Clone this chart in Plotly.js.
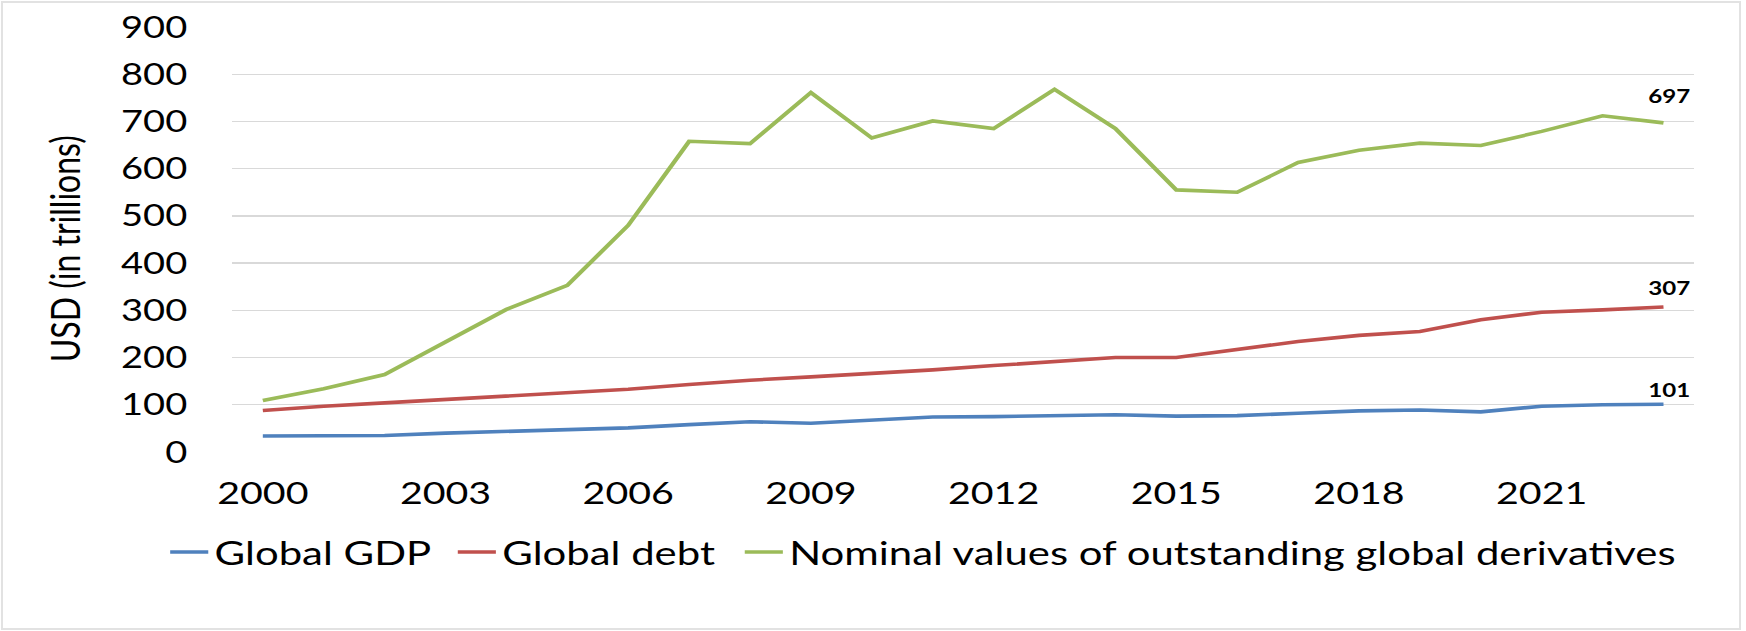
<!DOCTYPE html>
<html>
<head>
<meta charset="utf-8">
<script src="https://cdn.plot.ly/plotly-3.0.1.min.js"></script>
<style>
  html, body { margin: 0; padding: 0; background: #ffffff; }
  #outer { position: relative; width: 1746px; height: 631px; overflow: hidden; background: #ffffff; }
  #chart { position: absolute; left: 0; top: 0; width: 1375px; height: 631px; transform: scaleX(1.26982); transform-origin: 0 0; }
  #frame { position: absolute; left: 1px; top: 1px; width: 1736px; height: 625px; border: 2px solid #e2e2e2; pointer-events: none; }
</style>
</head>
<body>
<div id="outer">
  <div id="chart"></div>
  <div id="frame"></div>
</div>
<script>
// ---- data ----
const years = [2000, 2001, 2002, 2003, 2004, 2005, 2006, 2007, 2008, 2009, 2010, 2011,
               2012, 2013, 2014, 2015, 2016, 2017, 2018, 2019, 2020, 2021, 2022, 2023];
const globalGDP = [34, 34, 35, 40, 44, 48, 51, 58, 64, 61, 67, 74,
                   75, 77, 79, 76, 77, 82, 87, 89, 85, 97, 100, 101];
const globalDebt = [88, 97, 104, 111, 118, 125, 133, 143, 152, 159, 166, 174,
                    183, 191, 200, 200, 217, 234, 247, 255, 280, 296, 301, 307];
const derivatives = [109, 134, 164, 232, 302, 353, 480, 658, 653, 761, 665, 701,
                     685, 768, 685, 555, 550, 613, 639, 654, 649, 679, 712, 697];
const seriesNames = ["Global GDP", "Global debt", "Nominal values of outstanding global derivatives"];
const xTickYears = [2000, 2003, 2006, 2009, 2012, 2015, 2018, 2021];
const yTickValues = [0, 100, 200, 300, 400, 500, 600, 700, 800, 900];
const yAxisTitle = "USD (in trillions)";

// ---- styling ----
const colors = ["#4F81BD", "#C0504D", "#9BBB59"];
const labelRaise = [15, 20, 27];
const legendWidths = [181.5, 181, 745];
const FONT = "Lato, 'Open Sans', sans-serif";

const allSeries = [globalGDP, globalDebt, derivatives];
const traces = allSeries.map((vals, i) => ({
  type: "scatter",
  mode: "lines",
  name: seriesNames[i],
  x: years,
  y: vals,
  line: { color: colors[i], width: 3.6 },
  legendwidth: legendWidths[i],
  hoverinfo: "skip"
}));

const lastIdx = years.length - 1;
const endLabels = allSeries.map((vals, i) => ({
  x: years[lastIdx],
  y: vals[lastIdx],
  xref: "x", yref: "y",
  text: String(vals[lastIdx]),
  showarrow: false,
  xanchor: "center", yanchor: "middle",
  xshift: 4, yshift: labelRaise[i],
  font: { family: FONT, size: 19, color: "#000000", weight: 700 }
}));

const W = 1375, H = 631;
const marginL = 182.5, marginR = 41.2, marginT = 27, marginB = 179;
const plotW = W - marginL - marginR;
const plotH = H - marginT - marginB;

const titleAnn = {
  text: yAxisTitle,
  xref: "paper", yref: "paper",
  x: 0, y: (452 - 248.5) / plotH,
  xanchor: "center", yanchor: "middle",
  xshift: 50.2 - marginL,
  textangle: -90,
  showarrow: false,
  font: { family: FONT, size: 32, color: "#000000" }
};

const layout = {
  width: W, height: H,
  margin: { l: marginL, r: marginR, t: marginT, b: marginB, pad: 0 },
  paper_bgcolor: "#ffffff",
  plot_bgcolor: "#ffffff",
  showlegend: true,
  hovermode: false,
  font: { family: FONT, color: "#000000" },
  xaxis: {
    type: "linear",
    range: [1999.5, 2023.5],
    tickmode: "array",
    tickvals: xTickYears,
    ticktext: xTickYears.map(String),
    showgrid: false, zeroline: false, showline: false,
    ticks: "outside", ticklen: 14, tickcolor: "rgba(0,0,0,0)",
    tickfont: { family: FONT, size: 31, color: "#000000" },
    fixedrange: true
  },
  yaxis: {
    range: [0, 900],
    tickmode: "array",
    tickvals: yTickValues,
    ticktext: yTickValues.map(String),
    showgrid: true, gridcolor: "#d9d9d9", gridwidth: 1.3,
    zeroline: false, showline: false,
    ticks: "outside", ticklen: 28.5, tickcolor: "rgba(0,0,0,0)",
    tickfont: { family: FONT, size: 30, color: "#000000" },
    fixedrange: true
  },
  legend: {
    orientation: "h",
    x: (128.5 - marginL) / plotW, xanchor: "left",
    y: (452 - 552) / plotH, yanchor: "middle",
    font: { family: FONT, size: 33, color: "#000000" },
    entrywidthmode: "pixels",
    bgcolor: "rgba(0,0,0,0)",
    traceorder: "normal"
  },
  annotations: endLabels.concat([titleAnn])
};

Plotly.newPlot("chart", traces, layout, { displayModeBar: false, staticPlot: true, responsive: false });
</script>
</body>
</html>
